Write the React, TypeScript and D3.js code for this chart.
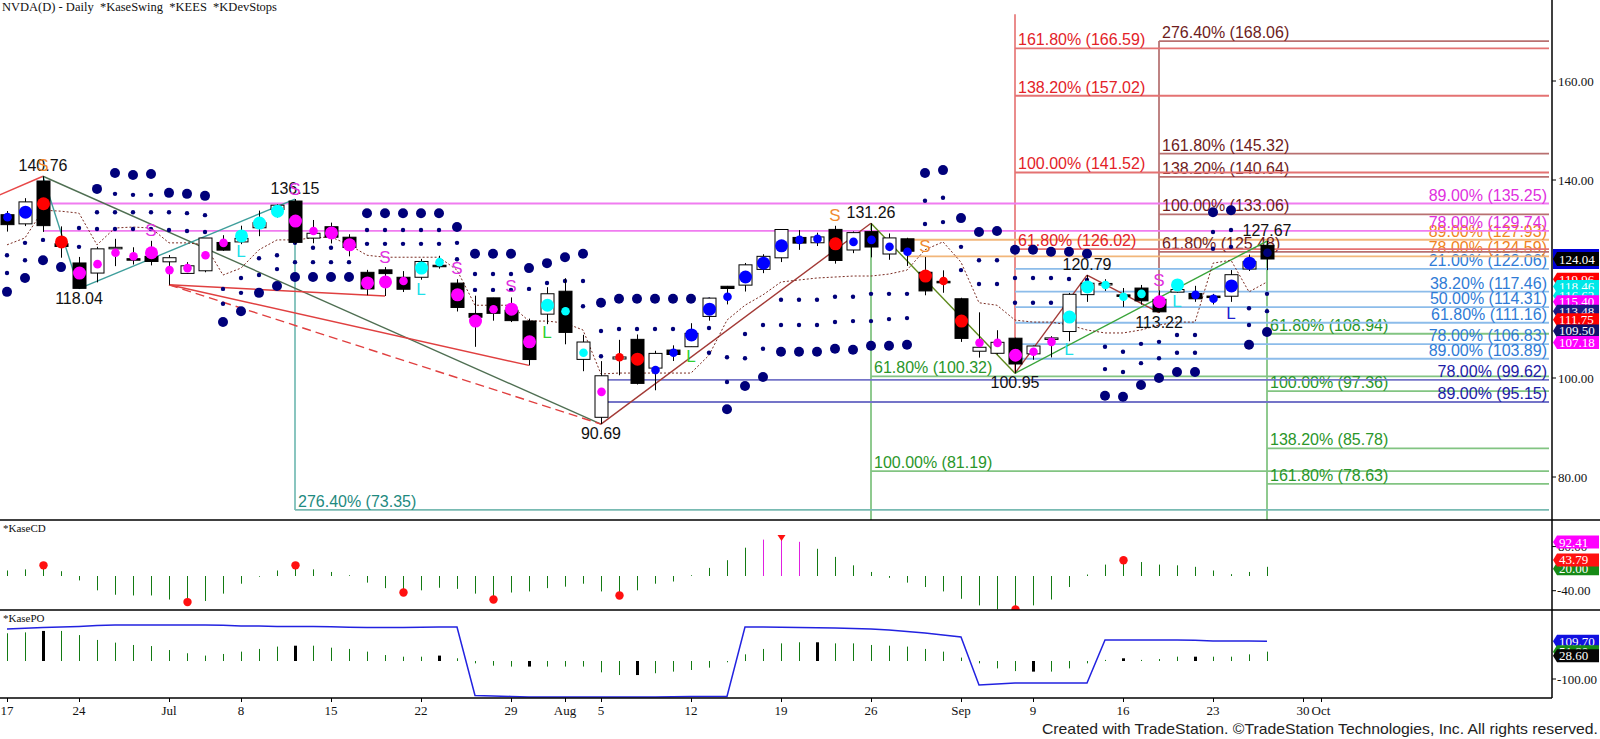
import React from "react";
import * as d3 from "d3";

// ---------- DATA ----------
const dayLabels: [number, string][] = [[0,"17"],[4,"24"],[9,"Jul"],[13,"8"],[18,"15"],[23,"22"],[28,"29"],[31,"Aug"],[33,"5"],[38,"12"],[43,"19"],[48,"26"],[53,"Sep"],[57,"9"],[62,"16"],[67,"23"],[72,"30"],[73,"Oct"]];

const opens = [132.99,131.14,139.80,127.12, 123.24,121.20,126.13,124.10,124.58, 123.47,121.13,121.66,127.38, 127.49,130.35,134.03,135.75,128.26, 130.56,128.44,121.35,121.85,120.35, 120.35,122.78,119.17,113.04,116.19, 113.69,111.52,112.90,117.53,103.76, 92.06,103.84,107.81,102.00,105.64, 106.32,112.44,118.53,118.76,121.94, 124.28,128.40,127.32,130.02,125.86, 129.57,125.05,128.12,121.36,119.53, 116.01,105.41,104.99,108.04, 104.88,107.81,109.39,116.84,119.08, 116.79,118.17,115.89,117.35,117.06, 116.55,116.52,122.02,126.80];
const highs = [133.73,136.33,140.76,130.63, 124.46,126.50,128.12,126.41,127.71, 124.84,123.41,128.28,128.85, 130.77,133.82,135.10,136.15,131.92, 131.39,129.04,121.85,122.40,121.60, 124.07,124.69,119.95,116.63,116.20, 116.28,111.99,118.34,120.16,108.72, 103.41,107.71,108.80,105.50,106.60, 111.07,116.23,118.60,123.24,125.00, 130.00,129.88,129.35,130.75,129.60, 131.26,129.20,128.33,124.43,121.75, 116.21,113.27,109.65,108.15, 106.55,108.45,117.19,120.79,119.96, 118.18,118.80,117.70,119.66,118.62, 116.99,121.80,124.94,127.67];
const lows = [129.58,130.69,129.52,124.30, 118.04,119.32,122.60,122.92,122.75, 118.83,121.03,121.36,125.68, 127.04,128.65,132.42,127.05,127.22, 127.18,124.58,116.72,116.56,117.37, 119.86,122.09,113.44,106.30,111.58, 111.30,102.54,110.88,106.81,101.37, 90.69,100.55,98.69,97.52,103.43, 106.26,111.58,114.87,117.47,121.18, 123.42,125.89,126.66,123.10,125.22, 124.37,123.88,122.64,116.71,117.22, 107.29,104.12,104.76,100.95, 103.69,104.16,107.42,115.38,117.60, 114.36,114.83,113.22,117.25,115.39, 114.86,115.38,121.61,121.80];
const closes = [130.98,135.58,130.78,126.57, 118.11,126.09,126.40,123.99,123.54, 124.30,122.67,128.28,125.83, 128.20,131.38,134.91,127.40,129.24, 128.44,126.36,117.99,121.09,117.93, 123.54,122.59,114.25,112.28,113.06, 111.59,103.73,117.02,109.21,107.27, 100.45,104.25,98.91,104.97,104.75, 109.02,116.14,118.08,122.86,124.58, 130.00,127.25,128.50,123.74,129.37, 126.46,128.30,125.61,117.59,119.37, 108.00,106.21,107.21,102.83, 106.47,108.10,116.91,119.14,119.10, 116.78,115.59,113.37,117.87,116.00, 116.26,120.87,123.51,124.04];

// KaseSwing bar markers
const markerColors = "bbrrmmmmmmmmmcccmmmmmmmccmmmmmcccmrrbbbbbbbbbbrbbbbrrrmmmmmcccccmcbbbbn";
const markerBig = [0,1,1,1,1,0,0,0,1,0,0,0,0,1,1,1,1,0,1,1,1,1,0,1,0,1,1,0,1,1,1,0,0,0,0,1,0,0,1,1,0,1,1,1,0,0,1,0,0,0,0,1,0,1,0,0,1,0,0,1,1,0,0,0,1,1,0,0,1,1,0];
const markerPrice = [132.5,133.5,135.2,127.5,121.2,123.0,125.3,124.6,125.3,121.8,122.2,124.8,127.3,128.7,131.3,133.7,131.7,129.7,129.3,126.9,119.2,119.4,119.6,122.2,123.4,116.8,111.5,113.9,113.9,107.3,114.7,113.5,105.1,97.2,104.2,103.8,101.6,105.1,108.7,113.9,116.4,120.4,123.2,126.7,127.9,128.1,127.1,127.5,127.9,126.5,125.5,120.6,119.6,111.5,107.1,107.1,104.6,105.3,107.3,112.3,118.4,118.8,116.4,117.0,115.4,118.8,116.8,116.0,118.6,123.2,125.3];

// KDevStops dots: [bar, price, big]
const devStops: [number, number, number][] = [
  [0,124.8,0],[0,121.2,0],[0,117.4,1],[1,127.3,0],[1,123.8,0],[1,120.2,1],[2,127.9,0],[2,123.8,1],[3,122.4,1],
  [4,130.3,0],[4,126.5,0],[5,138.2,1],[5,133.5,0],[5,130.1,0],
  [6,141.4,1],[6,137.2,0],[6,133.5,0],[6,130.1,0],[7,141.0,1],[7,137.0,0],[7,133.5,0],[7,130.1,0],[8,141.2,1],[8,137.0,0],[8,133.5,0],[8,130.1,0],
  [9,137.4,1],[9,133.5,0],[9,129.9,0],[10,137.2,1],[10,133.3,0],[10,129.7,0],[11,136.8,1],[11,132.9,0],[11,129.5,0],
  [12,118.0,0],[12,115.0,0],[12,111.3,1],[13,120.2,0],[13,117.2,0],[13,113.5,1],[14,124.2,0],[14,120.8,0],[14,117.2,1],[15,124.8,0],[15,122.0,0],[15,118.6,1],
  [16,127.3,0],[16,123.4,0],[16,120.4,1],[17,126.3,0],[17,123.4,0],[17,120.4,1],[18,126.3,0],[18,123.4,0],[18,120.4,1],[19,126.3,0],[19,123.4,0],[19,120.4,1],
  [20,133.3,1],[20,129.9,0],[20,127.1,0],[21,133.3,1],[21,129.9,0],[21,127.1,0],[22,133.3,1],[22,129.9,0],[22,127.1,0],[23,133.3,1],[23,129.9,0],[23,127.1,0],[24,133.3,1],[24,129.9,0],[24,127.1,0],
  [25,130.5,1],[25,127.3,0],[25,124.0,0],[26,125.1,1],[26,121.0,0],[26,117.8,0],[27,125.1,1],[27,121.0,0],[27,117.8,0],[28,125.1,1],[28,121.0,0],[28,117.8,0],
  [29,122.2,1],[29,118.0,0],[30,123.2,1],[30,119.2,0],[31,124.4,1],[31,119.6,0],[31,114.5,0],[32,125.1,1],[32,119.6,0],[32,114.5,0],
  [33,115.2,1],[33,109.5,0],[33,104.4,0],[34,116.0,1],[34,109.9,0],[35,116.0,1],[35,109.9,0],[36,116.0,1],[36,109.9,0],[37,116.0,1],[37,109.9,0],[38,116.0,1],
  [39,115.8,0],[39,110.1,0],[39,105.1,0],[40,104.2,0],[40,99.2,0],[40,93.7,1],[41,108.9,0],[41,104.0,0],[41,98.4,1],[42,110.7,0],[42,105.9,0],[42,100.2,1],
  [43,115.8,0],[43,110.7,0],[43,105.3,1],[44,115.8,0],[44,110.7,0],[44,105.3,1],[45,115.8,0],[45,110.7,0],[45,105.3,1],[46,116.4,0],[46,111.3,0],[46,105.9,1],
  [47,116.4,0],[47,111.5,0],[47,105.7,1],[48,117.0,0],[48,111.5,0],[48,106.5,1],[49,117.0,0],[49,111.9,0],[49,106.5,1],[50,117.0,0],[50,112.1,0],[50,106.7,1],
  [51,141.4,1],[51,135.8,0],[51,131.1,0],[52,142.0,1],[52,136.4,0],[52,131.5,0],[53,132.3,1],[53,126.5,0],[53,121.8,0],
  [54,129.5,1],[54,123.8,0],[54,119.0,0],[55,129.7,1],[55,123.8,0],[55,119.0,0],[56,125.9,1],[56,120.2,0],[56,115.2,0],[57,125.9,1],[57,120.2,0],[57,115.2,0],
  [58,125.5,1],[58,120.2,0],[58,115.2,0],[59,125.5,1],[59,120.0,0],[60,125.1,1],[60,119.8,0],
  [61,106.3,0],[61,101.8,0],[61,96.4,1],[62,105.3,0],[62,101.2,0],[62,96.2,1],[63,106.9,0],[63,103.0,0],[63,98.6,1],[64,107.3,0],[64,104.0,0],[64,100.0,1],
  [65,108.7,0],[65,105.1,0],[65,101.2,1],[66,108.7,0],[66,105.1,0],[66,101.2,1],
  [67,133.5,1],[67,129.5,0],[67,126.1,0],[68,133.9,1],[68,129.9,0],[68,126.5,0],
  [69,114.1,0],[69,110.7,0],[69,106.7,1],[70,117.0,0],[70,113.5,0],[70,109.3,1],
];

// KEES dashed line
const keesLine = [126.9,128.3,133.9,133.7,133.3,126.9,130.3,130.5,130.3,127.3,127.3,126.9,120.8,122.2,125.9,127.9,127.9,128.3,128.5,126.9,124.8,124.4,124.4,124.4,124.4,121.8,114.7,114.7,114.7,111.5,111.5,111.1,109.7,100.8,101.0,101.0,101.0,101.0,101.0,104.6,111.7,114.7,116.8,119.4,119.8,120.2,120.4,120.6,120.6,121.0,121.8,125.9,127.5,123.4,115.2,114.7,111.7,111.3,111.3,110.7,109.7,109.1,109.1,109.7,110.7,111.3,111.3,123.2,123.8,117.4,119.4];

// Swing zigzag segments: [bar1, price1, bar2, price2, colour, dashed]
const swingSegments: [number, number, number, number, string, number][] = [
  [-0.4,137.0,2,140.76,"#e84848",0],
  [2,140.76,33,90.69,"#4f6f52",0],
  [2,140.76,4,118.04,"#3f9f9c",0],
  [4,118.04,16,136.15,"#3f9f9c",0],
  [9,118.83,21,116.56,"#e04040",0],
  [9,118.83,29,102.54,"#e04040",0],
  [9,118.83,33,90.69,"#e04040",1],
  [33,90.69,48,131.26,"#a33a36",0],
  [48,131.26,56,100.95,"#5e8a1c",0],
  [56,100.95,60,120.79,"#a33a36",0],
  [60,120.79,64,113.22,"#a33a36",0],
  [56,100.95,70,127.67,"#3aa43a",0],
];
const swingLabels: [number, number, string, number][] = [
  [2,140.76,"140.76",1],[4,118.04,"118.04",0],[16,136.15,"136.15",1],[33,90.69,"90.69",0],[48,131.26,"131.26",1],
  [56,100.95,"100.95",0],[60,120.79,"120.79",1],[64,113.22,"113.22",0],[70,127.67,"127.67",1],
];
const swingLetters: [number, number, string, string][] = [
  [2,143.0,"S","#f08a30"],[8,129.7,"S","#e030e0"],[16,138.0,"S","#e030e0"],[13,125.5,"L","#20e0e8"],[21,124.4,"S","#e030e0"],
  [23,117.8,"L","#20e0e8"],[25,122.2,"S","#e030e0"],[28,118.4,"S","#e030e0"],[30,109.1,"L","#30d030"],[38,104.4,"L","#30d030"],
  [46,132.9,"S","#f08a30"],[51,126.5,"S","#f08a30"],[59,105.7,"L","#20e0e8"],[64,119.6,"S","#e030e0"],[65,115.4,"L","#20e0e8"],[68,113.1,"L","#2020d0"],
];

// Fibonacci projections: [percent, price]
const redFibs: [string, number][] = [["161.80%",166.59],["138.20%",157.02],["100.00%",141.52],["61.80%",126.02]];
const maroonFibs: [string, number][] = [["276.40%",168.06],["161.80%",145.32],["138.20%",140.64],["100.00%",133.06],["61.80%",125.48]];
const magentaFibs: [string, number][] = [["89.00%",135.25],["78.00%",129.74]];
const orangeFibs: [string, number][] = [["89.00%",127.93],["78.00%",124.59]];
const blueFibs: [string, number][] = [["21.00%",122.06],["38.20%",117.46],["50.00%",114.31],["61.80%",111.16],["78.00%",106.83],["89.00%",103.89]];
const navyFibs: [string, number][] = [["78.00%",99.62],["89.00%",95.15]];
const greenFibsA: [string, number][] = [["61.80%",100.32],["100.00%",81.19]];
const greenFibsB: [string, number][] = [["61.80%",108.94],["100.00%",97.36],["138.20%",85.78],["161.80%",78.63]];
const tealFibs: [string, number][] = [["276.40%",73.35]];

// KaseCD
const cdValues = [15,18,29,13,-12,-39,-51,-53,-53,-64,-71,-68,-48,-21,-2,15,29,18,11,2,-18,-33,-45,-39,-32,-35,-48,-64,-45,-42,-33,-29,-21,-42,-53,-39,-21,-15,2,22,43,77,99,106,93,74,52,29,11,-5,-18,-30,-42,-62,-80,-91,-91,-80,-64,-30,4,31,43,38,31,29,25,15,5,11,25];
const cdDots = [2,10,16,22,27,34,56,62];
const cdMagenta = [42,43,44];
// KasePO
const poValues = [154,159,167,167,144,117,102,89,83,61,43,30,39,52,67,80,85,85,74,67,52,33,24,24,30,15,-13,-26,-31,-31,-31,-31,-31,-63,-78,-78,-68,-59,-50,-37,-7,37,67,98,104,104,98,98,89,85,80,67,52,19,-13,-41,-56,-59,-59,-41,-13,6,15,6,11,24,24,24,24,37,52];
const poBlack = [2,16,24,29,35,45,57,62,66];
const poLine = [178,182,186,189,192,197,200,200,200,200,200,200,198,195,194,192,192,192,190,187,186,186,186,187,189,189,-192,-194,-197,-200,-200,-200,-200,-200,-200,-200,-200,-198,-197,-197,-197,189,189,188,186,185,183,181,178,172,164,156,145,133,-133,-128,-122,-122,-122,-122,-122,117,117,117,117,117,115,111,111,111,110];

// Right-axis value tags: [value, text, background]
const priceTags: [number, string, string][] = [
  [119.96,"119.96","#ff0000"],[118.46,"118.46","#00e8e8"],[116.62,"116.62","#00e8e8"],[115.40,"115.40","#ff00ff"],
  [113.48,"113.48","#1a1a80"],[111.75,"111.75","#ff0000"],[109.50,"109.50","#10106a"],[107.18,"107.18","#ff00ff"],
];
const priceTicks = [160, 140, 100, 80];
const cdTags: [number, string, string][] = [[20,"20.00","#168a16"],[43.79,"43.79","#ff1010"],[92.41,"92.41","#ff00ff"]];
const poTags: [number, string, string][] = [[109.70,"109.70","#1010e0"],[51.8,"51.80","#168a16"],[28.60,"28.60","#050505"]];

// ---------- LAYOUT ----------
const W = 1600, H = 739;
const PLOT_R = 1549, AXIS_X = 1552;
const MAIN_B = 520, CD_B = 610, PO_B = 698;
const SANS = "'Liberation Sans', Arial, sans-serif";
const SERIF = "'Liberation Serif', 'Times New Roman', serif";

export default function App() {
  const x = d3.scaleLinear().domain([0, 70]).range([7, 1267]);
  const y = d3.scaleLinear().domain([160, 80]).range([81, 477]);
  const yCD = d3.scaleLinear().domain([0, -40]).range([576, 590.7]);
  const yPO = d3.scaleLinear().domain([0, -100]).range([661, 679]);
  const cmap: Record<string, string> = { b: "#0000ff", r: "#ff0000", m: "#ff00ff", c: "#00ffff", n: "#00007a" };

  const keesPath = d3.line<number>().x((_, i) => x(i)).y((d) => y(d))(keesLine) || "";
  const poPath = d3.line<number>().x((_, i) => x(i)).y((d) => yPO(d))(poLine) || "";

  const fibGroup = (items: [string, number][], start: number, line: string, text: string, align: "l" | "r", key: string) =>
    items.map(([pct, p], i) => (
      <g key={key + i}>
        <line x1={x(start)} x2={PLOT_R} y1={y(p)} y2={y(p)} stroke={line} strokeWidth={1.8} />
        <text x={align === "l" ? x(start) + 3 : PLOT_R - 2} y={y(p) - 3} textAnchor={align === "l" ? "start" : "end"}
          fontFamily={SANS} fontSize={16} fill={text}>{`${pct} (${p.toFixed(2)})`}</text>
      </g>
    ));

  const tag = (cy: number, txt: string, bg: string, key: string, fg = "#fff", h = 13) => (
    <g key={key}>
      <path d={`M${AXIS_X + 1},${cy} L${AXIS_X + 5},${cy - h / 2} L${W - 1},${cy - h / 2} L${W - 1},${cy + h / 2} L${AXIS_X + 5},${cy + h / 2} Z`} fill={bg} />
      <text x={AXIS_X + 7} y={cy} dominantBaseline="central" fontFamily={SERIF} fontSize={13} fill={fg}>{txt}</text>
    </g>
  );

  return (
    <svg width={W} height={H} style={{ position: "absolute", left: 0, top: 0, background: "#fff" }}>
      <defs>
        <clipPath id="cMain"><rect x={0} y={0} width={PLOT_R} height={MAIN_B} /></clipPath>
        <clipPath id="cCD"><rect x={0} y={MAIN_B + 1} width={PLOT_R} height={CD_B - MAIN_B - 1} /></clipPath>
        <clipPath id="cPO"><rect x={0} y={CD_B + 1} width={PLOT_R} height={PO_B - CD_B - 1} /></clipPath>
      </defs>
      <rect x={0} y={0} width={W} height={H} fill="#fff" />

      <text x={2} y={11} fontFamily={SERIF} fontSize={12.5} fill="#111" style={{ whiteSpace: "pre" }}>{"NVDA(D) - Daily  *KaseSwing  *KEES  *KDevStops"}</text>

      <g clipPath="url(#cMain)">
        {/* verticals of fib projections */}
        <line x1={x(56)} x2={x(56)} y1={y(173.5)} y2={y(100.95)} stroke="#e36666" strokeWidth={1.5} />
        <line x1={x(64)} x2={x(64)} y1={y(168.06)} y2={y(113.22)} stroke="#a85a5a" strokeWidth={1.5} />
        <line x1={x(48)} x2={x(48)} y1={y(131.26)} y2={MAIN_B} stroke="#6ab86a" strokeWidth={1.5} />
        <line x1={x(70)} x2={x(70)} y1={y(127.67)} y2={MAIN_B} stroke="#6ab86a" strokeWidth={1.5} />
        <line x1={x(16)} x2={x(16)} y1={y(136.15)} y2={y(73.35)} stroke="#62b2aa" strokeWidth={1.5} />

        {fibGroup(tealFibs, 16, "#78bab2", "#1e8a80", "l", "t")}
        {fibGroup(greenFibsA, 48, "#82c482", "#2a962a", "l", "ga")}
        {fibGroup(greenFibsB, 70, "#82c482", "#2a962a", "l", "gb")}
        {fibGroup(navyFibs, 33, "#7474c8", "#1c1ca6", "r", "n")}
        {fibGroup(blueFibs, 56, "#8cbcea", "#2f7bd6", "r", "b")}
        {fibGroup(orangeFibs, 50, "#f2b67a", "#f08422", "r", "o")}
        {fibGroup(magentaFibs, 2, "#f07cf0", "#e030e0", "r", "m")}
        {fibGroup(maroonFibs, 64, "#b87070", "#6e1c1c", "l", "mr")}
        {fibGroup(redFibs, 56, "#e47272", "#e32228", "l", "r")}

        {/* swing lines */}
        {swingSegments.map(([i1, p1, i2, p2, c, dash], k) => (
          <line key={"sw" + k} x1={x(i1)} y1={y(p1)} x2={x(i2)} y2={y(p2)} stroke={c} strokeWidth={1.4}
            strokeDasharray={dash ? "9,5" : undefined} />
        ))}

        {/* KEES */}
        <path d={keesPath} fill="none" stroke="#7a2c22" strokeWidth={1} strokeDasharray="2,2" />

        {/* KDevStops */}
        {devStops.map(([i, p, big], k) => (
          <circle key={"ds" + k} cx={x(i)} cy={y(p)} r={big ? 5 : 2.2} fill="#00007a" />
        ))}

        {/* candles */}
        {opens.map((o, i) => {
          const c = closes[i];
          const top = y(Math.max(o, c));
          const bot = y(Math.min(o, c));
          const up = c >= o;
          return (
            <g key={"c" + i}>
              <line x1={x(i) + 0.5} x2={x(i) + 0.5} y1={y(highs[i])} y2={y(lows[i])} stroke="#000" strokeWidth={1} />
              <rect x={x(i) - 6} y={top} width={13} height={Math.max(bot - top, 1.5)} fill={up ? "#fff" : "#000"} stroke="#000" strokeWidth={1} />
            </g>
          );
        })}
        {markerPrice.map((p, i) => (
          <circle key={"mk" + i} cx={x(i) + 0.5} cy={y(p)} r={markerBig[i] ? 6.5 : 4.3} fill={cmap[markerColors[i]]} />
        ))}

        {/* swing labels */}
        {swingLabels.map(([i, p, t, above], k) => (
          <text key={"sl" + k} x={x(i)} y={above ? y(p) - 5 : y(p) + 15} textAnchor="middle" fontFamily={SANS} fontSize={16} fill="#111">{t}</text>
        ))}
        {swingLetters.map(([i, p, t, c], k) => (
          <text key={"lt" + k} x={x(i)} y={y(p)} textAnchor="middle" dominantBaseline="central" fontFamily={SANS} fontSize={17} fill={c}>{t}</text>
        ))}
      </g>

      {/* KaseCD */}
      <text x={3} y={532} fontFamily={SERIF} fontSize={11} fill="#111">*KaseCD</text>
      <g clipPath="url(#cCD)">
        {cdValues.map((v, i) => (
          <line key={"cd" + i} x1={x(i) + 0.5} x2={x(i) + 0.5} y1={yCD(0)} y2={yCD(v) + (Math.abs(v) < 1 ? 1 : 0)}
            stroke={cdMagenta.includes(i) ? "#e020e0" : "#137a13"} strokeWidth={1} />
        ))}
        {cdDots.map((i) => (
          <circle key={"cdd" + i} cx={x(i) + 0.5} cy={yCD(cdValues[i])} r={4.2} fill="#ff1010" />
        ))}
        <path d={`M${x(43) - 3.5},${MAIN_B + 15} L${x(43) + 4.5},${MAIN_B + 15} L${x(43) + 0.5},${MAIN_B + 21} Z`} fill="#ff1010" />
      </g>

      {/* KasePO */}
      <text x={3} y={622} fontFamily={SERIF} fontSize={11} fill="#111">*KasePO</text>
      <g clipPath="url(#cPO)">
        {poValues.map((v, i) => {
          const blk = poBlack.includes(i);
          return (
            <line key={"po" + i} x1={x(i) + 0.5} x2={x(i) + 0.5} y1={yPO(0)} y2={yPO(v)} stroke={blk ? "#000" : "#137a13"} strokeWidth={blk ? 3 : 1} />
          );
        })}
        <path d={poPath} fill="none" stroke="#2222e0" strokeWidth={1.5} />
      </g>

      {/* separators and axis */}
      <line x1={0} x2={W} y1={MAIN_B} y2={MAIN_B} stroke="#000" strokeWidth={1.5} />
      <line x1={0} x2={W} y1={CD_B} y2={CD_B} stroke="#000" strokeWidth={1.5} />
      <line x1={0} x2={AXIS_X} y1={PO_B} y2={PO_B} stroke="#000" strokeWidth={1.5} />
      <line x1={AXIS_X} x2={AXIS_X} y1={0} y2={PO_B} stroke="#000" strokeWidth={1.5} />

      {priceTicks.map((p) => (
        <g key={"pt" + p}>
          <line x1={AXIS_X} x2={AXIS_X + 4} y1={y(p)} y2={y(p)} stroke="#000" />
          <text x={AXIS_X + 6} y={y(p)} dominantBaseline="central" fontFamily={SERIF} fontSize={13} fill="#111">{p.toFixed(2)}</text>
        </g>
      ))}
      <rect x={AXIS_X + 1} y={y(124.04) - 10} width={W - AXIS_X - 2} height={20} fill="#0000d8" />
      {tag(y(124.04), "124.04", "#000", "last", "#fff", 14)}
      {priceTags.map(([v, t, bg], k) => tag(y(v), t, bg, "ptg" + k))}

      {/* CD axis */}
      <line x1={AXIS_X} x2={AXIS_X + 4} y1={yCD(-40)} y2={yCD(-40)} stroke="#000" />
      <text x={AXIS_X + 5} y={yCD(-40)} dominantBaseline="central" fontFamily={SERIF} fontSize={13} fill="#111">-40.00</text>
      <line x1={AXIS_X} x2={AXIS_X + 4} y1={yCD(80)} y2={yCD(80)} stroke="#000" />
      <text x={AXIS_X + 6} y={yCD(80)} dominantBaseline="central" fontFamily={SERIF} fontSize={13} fill="#111">80.00</text>
      {cdTags.map(([v, t, bg], k) => tag(yCD(v), t, bg, "cdt" + k))}

      {/* PO axis */}
      <line x1={AXIS_X} x2={AXIS_X + 4} y1={yPO(-100)} y2={yPO(-100)} stroke="#000" />
      <text x={AXIS_X + 5} y={yPO(-100)} dominantBaseline="central" fontFamily={SERIF} fontSize={13} fill="#111">-100.00</text>
      {poTags.map(([v, t, bg], k) => tag(yPO(v), t, bg, "pot" + k))}

      {/* date axis */}
      {dayLabels.map(([i, t]) => (
        <g key={"d" + t}>
          <line x1={x(i) + 0.5} x2={x(i) + 0.5} y1={PO_B} y2={PO_B + 4} stroke="#000" />
          <text x={x(i)} y={715} textAnchor="middle" fontFamily={SERIF} fontSize={13} fill="#111">{t}</text>
        </g>
      ))}

      <text x={W - 2} y={734} textAnchor="end" fontFamily={SANS} fontSize={15} fill="#222" textLength={556} lengthAdjust="spacingAndGlyphs">
        Created with TradeStation. ©TradeStation Technologies, Inc. All rights reserved.
      </text>
    </svg>
  );
}
